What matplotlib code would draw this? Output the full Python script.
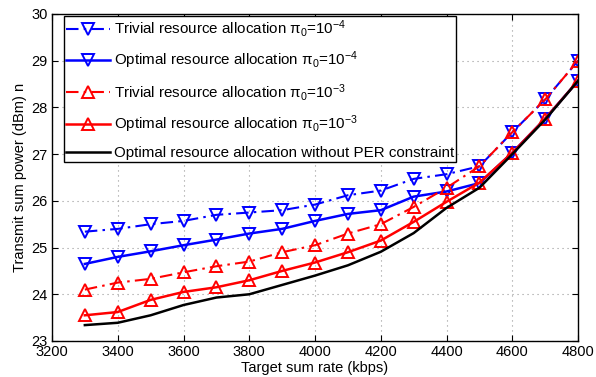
import numpy as np
import matplotlib.pyplot as plt

plt.rcParams['font.family'] = ['Liberation Sans', 'DejaVu Sans']
plt.rcParams['mathtext.fontset'] = 'custom'
plt.rcParams['mathtext.rm'] = 'Liberation Sans'
plt.rcParams['mathtext.it'] = 'Liberation Sans:italic'

# Target sum rate (kbps)
rate = [3300, 3400, 3500, 3600, 3700, 3800, 3900, 4000,
        4100, 4200, 4300, 4400, 4500, 4600, 4700, 4800]

# Transmit sum power (dBm)
trivial_1e4 = [25.34, 25.40, 25.50, 25.57, 25.70, 25.75, 25.80, 25.92,
               26.12, 26.22, 26.47, 26.57, 26.74, 27.47, 28.17, 29.00]
optimal_1e4 = [24.65, 24.80, 24.92, 25.05, 25.17, 25.30, 25.40, 25.57,
               25.72, 25.80, 26.09, 26.20, 26.38, 27.03, 27.76, 28.57]
trivial_1e3 = [24.10, 24.25, 24.33, 24.47, 24.60, 24.70, 24.90, 25.05,
               25.30, 25.50, 25.87, 26.28, 26.74, 27.47, 28.17, 29.00]
optimal_1e3 = [23.55, 23.62, 23.88, 24.05, 24.15, 24.30, 24.50, 24.68,
               24.90, 25.15, 25.55, 25.98, 26.39, 27.03, 27.76, 28.57]
no_per = [23.34, 23.39, 23.55, 23.77, 23.93, 24.00, 24.20, 24.40,
          24.62, 24.91, 25.31, 25.85, 26.28, 27.00, 27.74, 28.57]

labels = [
    'Trivial resource allocation π$_0$=10$^{-4}$',
    'Optimal resource allocation π$_0$=10$^{-4}$',
    'Trivial resource allocation π$_0$=10$^{-3}$',
    'Optimal resource allocation π$_0$=10$^{-3}$',
    'Optimal resource allocation without PER constraint',
]

fig = plt.figure(figsize=(5.96, 3.77), dpi=100)
ax = fig.add_axes([0.0872, 0.0955, 0.8828, 0.8675])

dashdot = (0, (6, 2.5, 1.2, 2.5))
mk = dict(markersize=8, markerfacecolor='none', markeredgewidth=1.4)

ax.plot(rate, trivial_1e4, color='#0000ff', linestyle=dashdot, linewidth=1.5,
        marker='v', label=labels[0], **mk)
ax.plot(rate, optimal_1e4, color='#0000ff', linestyle='-', linewidth=1.8,
        marker='v', label=labels[1], **mk)
ax.plot(rate, trivial_1e3, color='#ff0000', linestyle=dashdot, linewidth=1.5,
        marker='^', label=labels[2], **mk)
ax.plot(rate, optimal_1e3, color='#ff0000', linestyle='-', linewidth=1.8,
        marker='^', label=labels[3], **mk)
ax.plot(rate, no_per, color='black', linestyle='-', linewidth=1.8,
        label=labels[4])

ax.set_xlim(3200, 4800)
ax.set_ylim(23, 30)
ax.set_xticks(np.arange(3200, 4801, 200))
ax.set_yticks(np.arange(23, 31, 1))
ax.tick_params(direction='in', top=True, right=True, labelsize=10.5,
               length=4, width=0.8, pad=3)
ax.grid(True, linestyle=(0, (1, 3.5)), color='#999999', linewidth=0.8)
for s in ax.spines.values():
    s.set_linewidth(1.0)

ax.set_xlabel('Target sum rate (kbps)', fontsize=10.5, labelpad=1)
ax.set_ylabel('Transmit sum power (dBm) n', fontsize=10.5, labelpad=3)

leg = ax.legend(loc='upper left', bbox_to_anchor=(12 / 526, 1 - 2 / 327),
                borderaxespad=0, fontsize=10.9, fancybox=False,
                edgecolor='black', framealpha=1, handlelength=2.9,
                labelspacing=0.7, handletextpad=0.25, borderpad=0.15)
leg.get_frame().set_linewidth(1.0)

fig.savefig('out.png', dpi=100)
